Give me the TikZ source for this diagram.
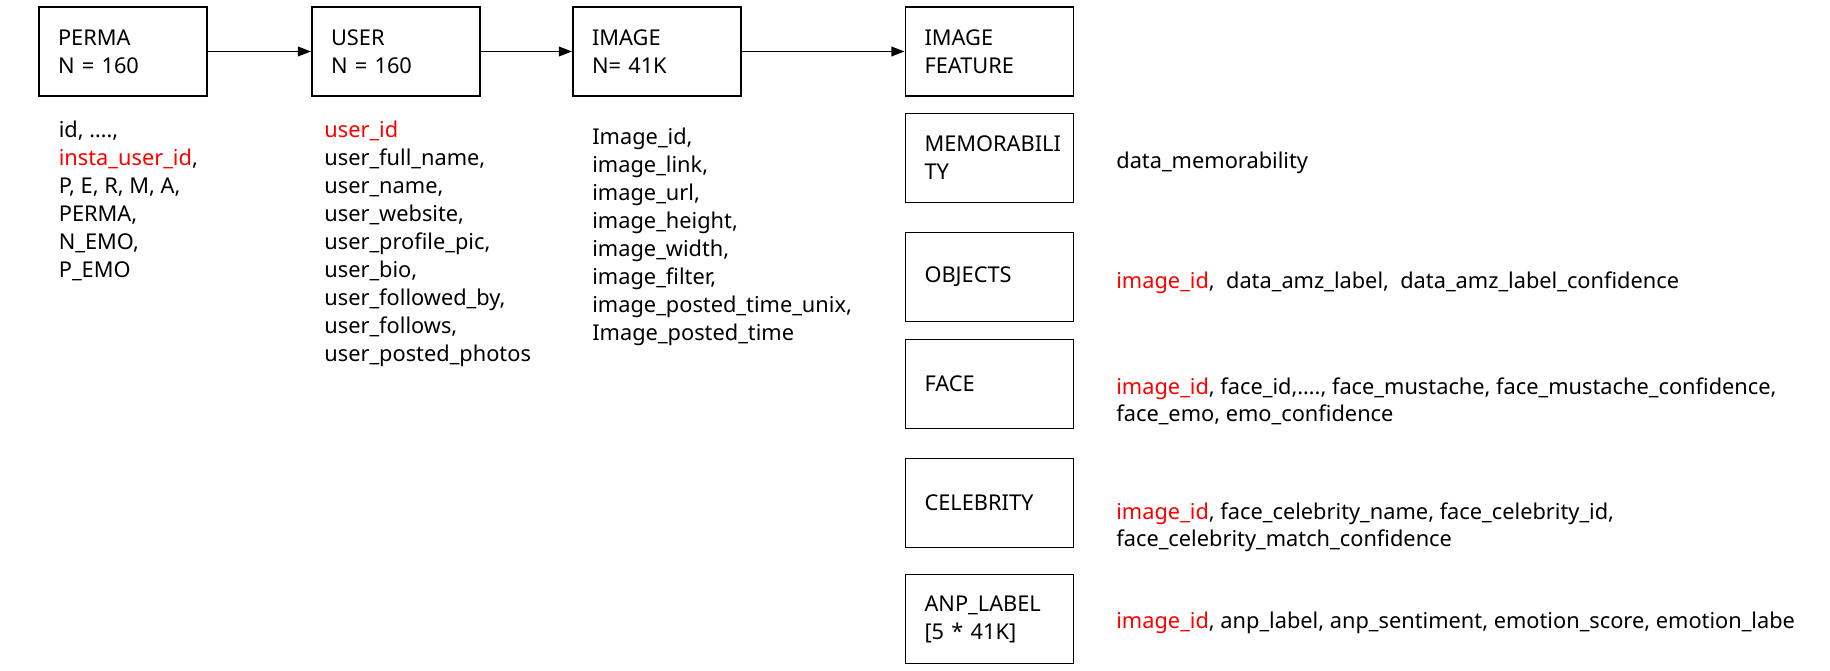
\documentclass[tikz,border=0pt]{standalone}
\usepackage{fontspec}
\setmainfont{Noto Sans}
\usetikzlibrary{positioning,arrows.meta}

\definecolor{keyred}{RGB}{255,0,0}
\newcommand{\key}[1]{\textcolor{keyred}{#1}}

\begin{document}
\begin{tikzpicture}[
    x=0.02cm, y=-0.02cm,
    font=\fontsize{12.4}{15.9}\selectfont,
    table/.style={draw, rectangle, line width=1.1pt, minimum width=3.36cm, minimum height=1.78cm, text width=2.6cm, inner xsep=0.38cm, align=left},
    fields/.style={anchor=north west, inner sep=0pt, align=left},
    edge/.style={-{Triangle[length=7.5pt,width=5.5pt]}, line width=0.9pt}
]
\useasboundingbox (0,0) rectangle (1830,671);

\node[table] (perma) at (123,51.5) {PERMA\\N = 160};
\node[table] (user) at (396,51.5) {USER\\N = 160};
\node[table] (image) at (657,51.5) {IMAGE\\N= 41K};
\node[table] (feature) at (989.5,51.5) {IMAGE\\FEATURE};
\node[table] (memo) at (989.5,158) {MEMORABILI\\TY};
\node[table] (objects) at (989.5,277) {OBJECTS};
\node[table] (face) at (989.5,384) {FACE};
\node[table] (celeb) at (989.5,503) {CELEBRITY};
\node[table] (anp) at (989.5,619) {ANP\_LABEL\\{}[5 * 41K]};

% field lists, placed by the top of their first line
\node[fields] (permafields) at (58.5,121) {id, ….,\\\key{insta\_user\_id},\\P, E, R, M, A,\\PERMA,\\N\_EMO,\\P\_EMO};
\node[fields] (userfields) at (324,121) {\key{user\_id}\\user\_full\_name,\\user\_name,\\user\_website,\\user\_profile\_pic,\\user\_bio,\\user\_followed\_by,\\user\_follows,\\user\_posted\_photos};
\node[fields] (imagefields) at (592,128) {Image\_id,\\image\_link,\\image\_url,\\image\_height,\\image\_width,\\image\_filter,\\image\_posted\_time\_unix,\\Image\_posted\_time};

\node[fields] (memofields) at (1116,152) {data\_memorability};
\node[fields] (objectsfields) at (1116,271) {\key{image\_id},\ \ data\_amz\_label,\ \ data\_amz\_label\_confidence};
\node[fields] (facefields) at (1116,377) {\key{image\_id}, face\_id,…., face\_mustache, face\_mustache\_confidence,\\face\_emo, emo\_confidence};
\node[fields] (celebfields) at (1116,502) {\key{image\_id}, face\_celebrity\_name, face\_celebrity\_id,\\face\_celebrity\_match\_confidence};
\node[fields] (anpfields) at (1116,612) {\key{image\_id}, anp\_label, anp\_sentiment, emotion\_score, emotion\_labe};

\draw[edge] (perma) -- (user);
\draw[edge] (user) -- (image);
\draw[edge] (image) -- (feature);
\end{tikzpicture}
\end{document}
